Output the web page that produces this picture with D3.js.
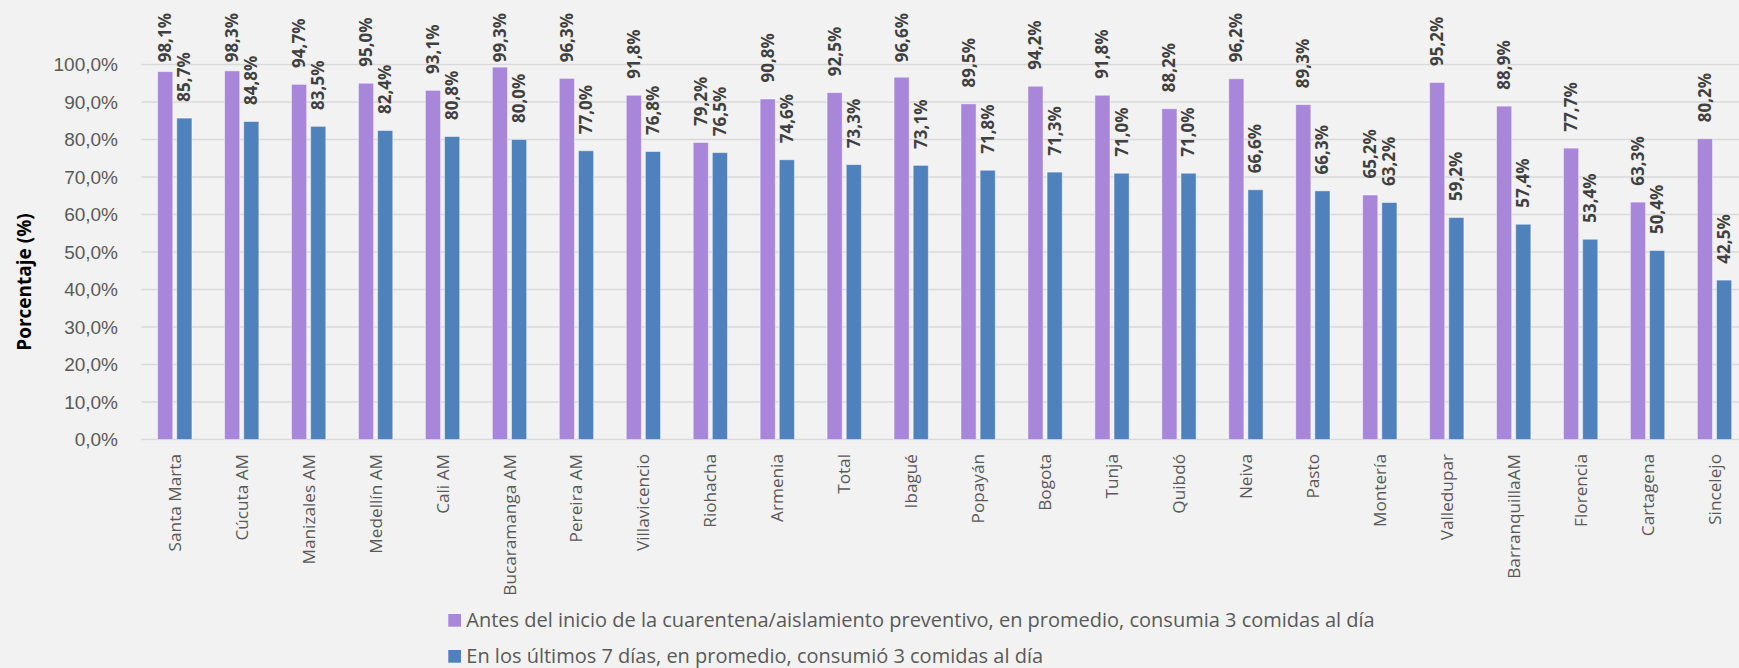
<!DOCTYPE html>
<html>
<head>
<meta charset="utf-8">
<script src="https://cdn.jsdelivr.net/npm/d3@7"></script>
<style>
  html, body { margin: 0; padding: 0; background: #F2F2F2; }
  svg { display: block; font-family: "Open Sans", "Noto Sans", sans-serif; }
</style>
</head>
<body>
<svg id="chart" width="1739" height="668"></svg>
<script>
const cities = ['Santa Marta','Cúcuta AM','Manizales AM','Medellín AM','Cali AM','Bucaramanga AM',
  'Pereira AM','Villavicencio','Riohacha','Armenia','Total','Ibagué','Popayán','Bogota','Tunja',
  'Quibdó','Neiva','Pasto','Montería','Valledupar','BarranquillaAM','Florencia','Cartagena','Sincelejo'];
const antes = [98.1,98.3,94.7,95.0,93.1,99.3,96.3,91.8,79.2,90.8,92.5,96.6,89.5,94.2,91.8,88.2,96.2,89.3,65.2,95.2,88.9,77.7,63.3,80.2];
const ultimos = [85.7,84.8,83.5,82.4,80.8,80.0,77.0,76.8,76.5,74.6,73.3,73.1,71.8,71.3,71.0,71.0,66.6,66.3,63.2,59.2,57.4,53.4,50.4,42.5];
const seriesNames = [
  'Antes del inicio de la cuarentena/aislamiento preventivo, en promedio, consumia 3 comidas al día',
  'En los últimos 7 días, en promedio, consumió 3 comidas al día'
];
const colors = ['#A886D9', '#4F81BD'];
const yTicks = [0,10,20,30,40,50,60,70,80,90,100];

const svg = d3.select('svg#chart');
const fmt = v => d3.format('.1f')(v).replace('.', ',') + '%';

const x0 = d3.scaleBand().domain(cities).range([141.3, 1748]).padding(0);
const bw = x0.bandwidth();
const x1 = d3.scaleBand().domain([0, 1]).range([bw * 0.244, bw * 0.756]).paddingInner(0.21);
const y = d3.scaleLinear().domain([0, 100]).range([439.5, 64.5]);

// grid
svg.append('g').selectAll('line').data(yTicks)
  .enter().append('line')
    .attr('x1', 141.3).attr('x2', 1748)
    .attr('y1', d => y(d)).attr('y2', d => y(d))
    .attr('stroke', '#D9D9D9').attr('stroke-width', 1.5);

// y axis labels
const yAxis = d3.axisLeft(y).tickValues(yTicks).tickFormat(fmt).tickSize(0).tickPadding(0);
const gy = svg.append('g').attr('transform', 'translate(118,0)').call(yAxis);
gy.select('.domain').remove();
gy.selectAll('text').attr('font-size', 19).attr('fill', '#595959').attr('font-family', null);

// y title
svg.append('text')
  .attr('transform', 'translate(24,282) rotate(-90)')
  .attr('text-anchor', 'middle').attr('dy', '0.35em')
  .attr('font-size', 19).attr('font-weight', 'bold').attr('fill', '#000')
  .text('Porcentaje (%)');

// bars
const rows = cities.map((c, i) => ({ city: c, vals: [antes[i], ultimos[i]] }));
const groups = svg.append('g').selectAll('g').data(rows)
  .enter().append('g')
    .attr('transform', d => `translate(${x0(d.city)},0)`);

groups.selectAll('rect').data(d => d.vals.map((v, k) => ({ v, k })))
  .enter().append('rect')
    .attr('x', d => x1(d.k))
    .attr('width', x1.bandwidth())
    .attr('y', d => y(d.v))
    .attr('height', d => y(0) - y(d.v))
    .attr('fill', d => colors[d.k])
    .attr('stroke', '#ffffff').attr('stroke-opacity', 0.45).attr('stroke-width', 1);

// data labels
groups.selectAll('text.lbl').data(d => d.vals.map((v, k) => ({ v, k })))
  .enter().append('text')
    .attr('class', 'lbl')
    .attr('font-size', 17).attr('font-weight', 'bold').attr('fill', '#404040')
    .attr('text-anchor', 'start').attr('dy', '0.35em')
    .text(d => fmt(d.v))
    .each(function(d) {
      const len = this.getComputedTextLength();
      let ly = y(d.v) - 16.5;
      if (ly - len < 13) ly = 13 + len;
      const lx = x1(d.k) + x1.bandwidth() / 2;
      d3.select(this).attr('transform', `translate(${lx},${ly}) rotate(-90)`);
    });

// x labels
svg.append('g').selectAll('text').data(cities)
  .enter().append('text')
    .attr('transform', d => `translate(${x0(d) + bw / 2},454) rotate(-90)`)
    .attr('text-anchor', 'end').attr('dy', '0.35em')
    .attr('font-size', 17.2).attr('fill', '#595959')
    .text(d => d);

// legend
const legend = svg.append('g').selectAll('g').data(seriesNames)
  .enter().append('g')
    .attr('transform', (d, i) => `translate(448.3,${620.3 + i * 36})`);
legend.append('rect')
  .attr('x', 0).attr('y', -6.3).attr('width', 12.7).attr('height', 12.7)
  .attr('fill', (d, i) => colors[i]);
legend.append('text')
  .attr('x', 18).attr('dy', '0.35em')
  .attr('font-size', 20).attr('fill', '#595959')
  .text(d => d);
</script>
</body>
</html>
